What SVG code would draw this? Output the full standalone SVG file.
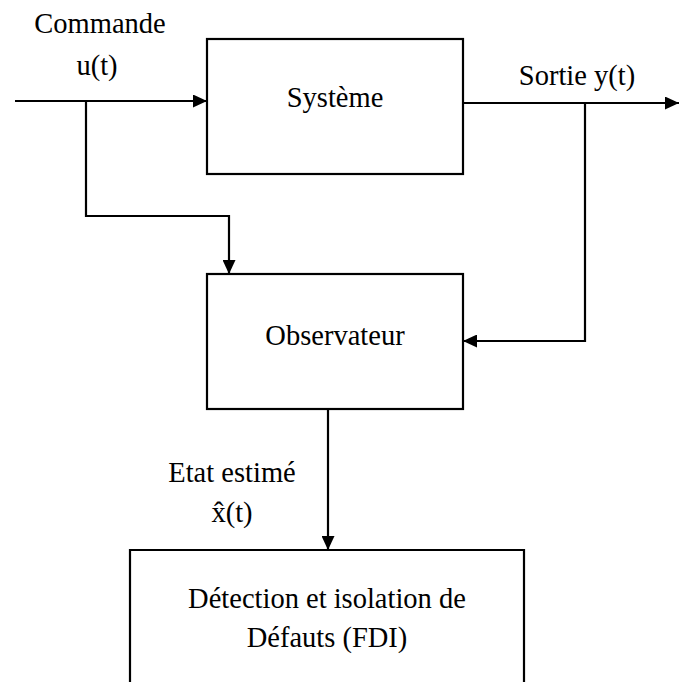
<svg xmlns="http://www.w3.org/2000/svg" width="679" height="682" viewBox="0 0 679 682">
<style>
.box{fill:#fff;stroke:#000;stroke-width:2.2}
.ln{fill:none;stroke:#000;stroke-width:2.2}
.t{font-family:'Liberation Serif','Times New Roman',Times,serif;font-size:28.5px;fill:#000;text-anchor:middle}
</style>
<defs>
<marker id="ah" viewBox="0 0 14 13" refX="14" refY="6.5" markerWidth="14" markerHeight="13" markerUnits="userSpaceOnUse" orient="auto">
<path d="M0,0 L14,6.5 L0,13 Z" fill="#000"/>
</marker>
</defs>
<g id="connectors">
<line class="ln" x1="15" y1="101" x2="207" y2="101" marker-end="url(#ah)"/>
<polyline class="ln" points="86,101 86,216 229,216 229,274" marker-end="url(#ah)"/>
<line class="ln" x1="463" y1="103" x2="679" y2="103" marker-end="url(#ah)"/>
<polyline class="ln" points="585,103 585,341 463,341" marker-end="url(#ah)"/>
<line class="ln" x1="328" y1="409" x2="328" y2="550" marker-end="url(#ah)"/>
</g>
<g id="systeme">
<rect class="box" x="207" y="39" width="256" height="135"/>
<text class="t" x="335" y="107">Système</text>
</g>
<g id="observateur">
<rect class="box" x="207" y="274" width="256" height="135"/>
<text class="t" x="335" y="345">Observateur</text>
</g>
<g id="fdi">
<path class="box" d="M130,690 L130,550 L524,550 L524,690"/>
<text class="t" x="327" y="608">Détection et isolation de</text>
<text class="t" x="327" y="647">Défauts (FDI)</text>
</g>
<g id="labels">
<text class="t" x="100" y="33">Commande</text>
<text class="t" x="97" y="75">u(t)</text>
<text class="t" x="577" y="85">Sortie y(t)</text>
<text class="t" x="232" y="482">Etat estimé</text>
<text class="t" x="232" y="522">x̂(t)</text>
</g>
</svg>
